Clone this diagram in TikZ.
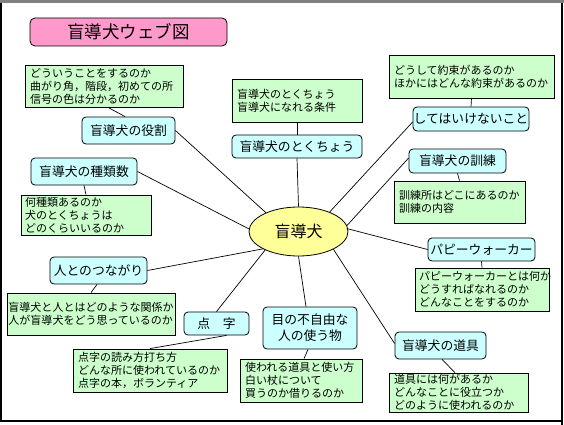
\documentclass[tikz,border=0pt]{standalone}
\usepackage{fontspec}
\newfontfamily\jp{Noto Sans CJK JP}
\usetikzlibrary{shapes.geometric}
\definecolor{gfill}{RGB}{204,255,204}
\definecolor{bfill}{RGB}{204,255,255}
\definecolor{pfill}{RGB}{255,153,204}
\definecolor{yfill}{RGB}{255,255,153}
\definecolor{bandgray}{RGB}{128,128,128}
\begin{document}
\begin{tikzpicture}[x=1pt,y=-1pt,
  gbox/.style={draw, fill=gfill, line width=0.8pt, inner xsep=5pt, inner ysep=0pt, align=left, font=\jp\fontsize{11}{13}\selectfont},
  bbox/.style={draw, fill=bfill, line width=0.8pt, rounded corners=4pt, inner sep=0pt, align=center, font=\jp\fontsize{12.8}{16}\selectfont},
  link/.style={line width=0.7pt}]
% canvas and frame
\fill[white] (0,0) rectangle (564,425);
\useasboundingbox (0,0) rectangle (564,425);
\fill[bandgray] (0,0) rectangle (564,3);
\fill[black] (0,3) rectangle (1.7,421.7);
\fill[black] (0,420.2) rectangle (563.3,421.7);
\fill[black] (561.3,3) rectangle (563.3,425);

% title
\node[draw, fill=pfill, line width=0.8pt, rounded corners=5pt, minimum width=197pt, minimum height=28pt, inner sep=0pt, font=\jp\fontsize{17.5}{20}\selectfont] (title) at (128.5,32) {盲導犬ウェブ図};

% centre
\node[ellipse, draw, fill=yfill, line width=0.8pt, minimum width=99pt, minimum height=49pt, inner sep=0pt, font=\jp\fontsize{16}{18}\selectfont] (c) at (298.5,231.5) {盲導犬};

% green detail boxes
\node[gbox, text width=148pt, minimum height=42pt] (g1) at (104,86) {どういうことをするのか\\曲がり角，階段，初めての所\\信号の色は分かるのか};
\node[gbox, text width=120pt, minimum height=43pt] (g2) at (297,100.5) {盲導犬のとくちょう\\盲導犬になれる条件};
\node[gbox, text width=155pt, minimum height=43pt] (g3) at (471.5,76.5) {どうして約束があるのか\\ほかにはどんな約束があるのか};
\node[gbox, inner xsep=4pt, text width=122pt, minimum height=40pt] (g4) at (86,215) {何種類あるのか\\犬のとくちょうは\\どのくらいいるのか};
\node[gbox, text width=121pt, minimum height=42pt] (g5) at (459.5,202) {訓練所はどこにあるのか\\訓練の内容};
\node[gbox, inner xsep=4pt, text width=126pt, minimum height=43pt] (g6) at (482,289.5) {パピーウォーカーとは何か\\どうすればなれるのか\\どんなことをするのか};
\node[gbox, inner xsep=1.5pt, text width=165pt, minimum height=42pt] (g7) at (91,314) {盲導犬と人とはどのような関係か\\人が盲導犬をどう思っているのか};
\node[gbox, text width=144pt, minimum height=43pt] (g8) at (150,370.5) {点字の読み方打ち方\\どんな所に使われているのか\\点字の本，ボランティア};
\node[gbox, text width=112pt, minimum height=43pt] (g9) at (301,380.5) {使われる道具と使い方\\白い杖について\\買うのか借りるのか};
\node[gbox, text width=129pt, minimum height=39pt] (g10) at (458.5,392.5) {道具には何があるか\\どんなことに役立つか\\どのように使われるのか};

% blue topic boxes
\node[bbox, minimum width=93pt, minimum height=27pt] (b1) at (128.5,130.5) {盲導犬の役割};
\node[bbox, minimum width=130pt, minimum height=23pt] (b2) at (297,146.5) {盲導犬のとくちょう};
\node[bbox, minimum width=116pt, minimum height=24pt] (b3) at (471,119) {してはいけないこと};
\node[bbox, minimum width=106pt, minimum height=27pt] (b4) at (84,171.5) {盲導犬の種類数};
\node[bbox, minimum width=97pt, minimum height=24pt] (b5) at (457.5,161) {盲導犬の訓練};
\node[bbox, minimum width=107pt, minimum height=23pt] (b6) at (481.5,249.5) {パピーウォーカー};
\node[bbox, minimum width=97pt, minimum height=27pt] (b7) at (98.5,270.5) {人とのつながり};
\node[bbox, minimum width=65pt, minimum height=23pt] (b8) at (216.5,323.5) {点　字};
\node[bbox, minimum width=94pt, minimum height=42pt] (b9) at (310,328) {目の不自由な\\人の使う物};
\node[bbox, minimum width=91pt, minimum height=27pt] (b10) at (440.5,345.5) {盲導犬の道具};

% centre to topics
\draw[link] (c.150) -- (b1.east);
\draw[link] (c.90) -- (b2.south);
\draw[link] (c.32) -- ([yshift=-3pt]b3.west);
\draw[link] (c.177) -- (b4.east);
\draw[link] (c.7) -- ([yshift=3pt]b5.west);
\draw[link] (c.3) -- (b6.west);
\draw[link] (c.206) -- (b7.east);
\draw[link] (c.209) -- (b8.north);
\draw[link] (c.270) -- ([xshift=-4pt]b9.north);
\draw[link] (c.333) -- ([yshift=2pt]b10.west);

% topics to details
\draw[link] ([xshift=4pt]g1.south) -- ([xshift=-3.5pt]b1.north);
\draw[link] (g2.south) -- (b2.north);
\draw[link] (g3.south) -- (b3.north);
\draw[link] (b4.south) -- (g4.north);
\draw[link] (b5.south) -- (g5.north);
\draw[link] (b6.south) -- (g6.north);
\draw[link] ([xshift=-1.5pt]b7.south) -- (g7.north);
\draw[link] ([xshift=10pt]b8.south) -- (g8.north);
\draw[link] ([xshift=-2pt]b9.south) -- ([xshift=3pt]g9.north);
\draw[link] ([xshift=1.5pt]b10.south) -- ([xshift=-3.5pt]g10.north);
\end{tikzpicture}
\end{document}
